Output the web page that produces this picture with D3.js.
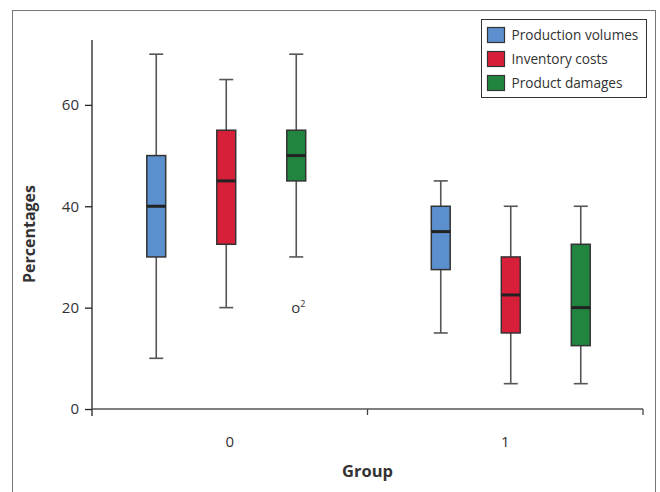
<!DOCTYPE html>
<html lang="en">
<head>
  <meta charset="UTF-8">
  <title>Box plot by group</title>
  <script src="https://d3js.org/d3.v7.min.js"></script>
  <style>
    body { margin: 0; background: #fff; }
    text { font-family: "Open Sans", "Noto Sans", sans-serif; fill: #333; }
  </style>
</head>
<body>
  <div id="chart"></div>

  <script>
    // groups and series
    const groups = ["0", "1"];
    const series = ["Production volumes", "Inventory costs", "Product damages"];
    const colors = ["#5b8fcd", "#d81f3a", "#22853f"];
    const yTicks = [0, 20, 40, 60];

    // five-number summaries, one row per group, one entry per series
    const lowWhisker = [[10, 20, 30], [15, 5, 5]];
    const q1 = [[30, 32.5, 45], [27.5, 15, 12.5]];
    const medians = [[40, 45, 50], [35, 22.5, 20]];
    const q3 = [[50, 55, 55], [40, 30, 32.5]];
    const highWhisker = [[70, 65, 70], [45, 40, 40]];

    // outliers: group, series, value, case label
    const outliers = [{ group: "0", series: 2, value: 20, label: "2" }];

    const width = 660;
    const height = 492;
    const margin = { top: 40, right: 17, bottom: 83, left: 92 };

    const svg = d3.select("#chart")
      .append("svg")
      .attr("width", width)
      .attr("height", height);

    // outer frame
    svg.append("rect")
      .attr("x", 12.5)
      .attr("y", 10.5)
      .attr("width", 643)
      .attr("height", 500)
      .attr("fill", "none")
      .attr("stroke", "#777");

    const x = d3.scaleBand()
      .domain(groups)
      .range([margin.left, width - margin.right]);

    // boxes sit on a slightly wider group scale than the axis bands
    const xBox = d3.scaleBand()
      .domain(groups)
      .range([84, 653]);

    const xSeries = d3.scaleBand()
      .domain(d3.range(series.length))
      .range([-105, 105])
      .paddingInner(0.73)
      .paddingOuter(0.365);

    const y = d3.scaleLinear()
      .domain([0, 72.8])
      .range([height - margin.bottom, margin.top]);

    // y axis
    const yAxis = svg.append("g")
      .attr("transform", "translate(" + margin.left + ",0)")
      .call(d3.axisLeft(y).tickValues(yTicks).tickSize(7).tickSizeOuter(0).tickPadding(6));
    yAxis.select(".domain").remove();
    yAxis.append("line")
      .attr("y1", y.range()[1])
      .attr("y2", y(0) + 7)
      .attr("stroke", "#222")
      .attr("stroke-width", 1.3);
    yAxis.selectAll(".tick line").attr("stroke", "#222").attr("stroke-width", 1.3);
    yAxis.selectAll(".tick text")
      .style("font-size", "15px")
      .attr("fill", "#333");

    // x axis, ticks on the band edges
    const xAxis = svg.append("g")
      .attr("transform", "translate(0," + y(0) + ")");
    xAxis.append("line")
      .attr("x1", margin.left)
      .attr("x2", width - margin.right)
      .attr("stroke", "#555")
      .attr("stroke-width", 1.5);
    const edges = [x.range()[0], x("1"), x.range()[1]];
    xAxis.selectAll(".edge")
      .data(edges.slice(1))
      .enter().append("line")
      .attr("class", "edge")
      .attr("x1", d => d)
      .attr("x2", d => d)
      .attr("y1", 0)
      .attr("y2", 6)
      .attr("stroke", "#444")
      .attr("stroke-width", 1.3);
    xAxis.selectAll(".glabel")
      .data(groups)
      .enter().append("text")
      .attr("class", "glabel")
      .attr("x", d => x(d) + x.bandwidth() / 2)
      .attr("y", 38)
      .attr("text-anchor", "middle")
      .style("font-size", "15px")
      .text(d => d);

    // axis titles
    svg.append("text")
      .attr("x", x.range()[0] + (x.range()[1] - x.range()[0]) / 2)
      .attr("y", 477)
      .attr("text-anchor", "middle")
      .style("font-size", "16.5px")
      .style("font-weight", "bold")
      .text("Group");

    svg.append("text")
      .attr("transform", "translate(35,234) rotate(-90)")
      .attr("text-anchor", "middle")
      .style("font-size", "16px")
      .style("font-weight", "bold")
      .text("Percentages");

    // box data
    const boxes = [];
    groups.forEach((g, gi) => {
      series.forEach((s, si) => {
        boxes.push({
          group: g, si: si,
          lo: lowWhisker[gi][si], q1: q1[gi][si], med: medians[gi][si],
          q3: q3[gi][si], hi: highWhisker[gi][si]
        });
      });
    });

    const cx = d => xBox(d.group) + xBox.bandwidth() / 2 + xSeries(d.si) + xSeries.bandwidth() / 2;
    const bw = xSeries.bandwidth();
    const capW = 14;

    const box = svg.selectAll(".box")
      .data(boxes)
      .enter().append("g")
      .attr("class", "box");

    box.append("line")
      .attr("x1", cx).attr("x2", cx)
      .attr("y1", d => y(d.hi)).attr("y2", d => y(d.lo))
      .attr("stroke", "#555").attr("stroke-width", 1.6);

    box.append("line")
      .attr("x1", d => cx(d) - capW / 2).attr("x2", d => cx(d) + capW / 2)
      .attr("y1", d => y(d.hi)).attr("y2", d => y(d.hi))
      .attr("stroke", "#555").attr("stroke-width", 1.6);

    box.append("line")
      .attr("x1", d => cx(d) - capW / 2).attr("x2", d => cx(d) + capW / 2)
      .attr("y1", d => y(d.lo)).attr("y2", d => y(d.lo))
      .attr("stroke", "#555").attr("stroke-width", 1.6);

    box.append("rect")
      .attr("x", d => cx(d) - bw / 2)
      .attr("y", d => y(d.q3))
      .attr("width", bw)
      .attr("height", d => y(d.q1) - y(d.q3))
      .attr("fill", d => colors[d.si])
      .attr("stroke", "#333")
      .attr("stroke-width", 1.5);

    box.append("line")
      .attr("x1", d => cx(d) - bw / 2).attr("x2", d => cx(d) + bw / 2)
      .attr("y1", d => y(d.med)).attr("y2", d => y(d.med))
      .attr("stroke", "#222").attr("stroke-width", 3);

    // outliers drawn as "o" with a case label
    const out = svg.selectAll(".outlier")
      .data(outliers)
      .enter().append("text")
      .attr("class", "outlier")
      .attr("x", d => cx({ group: d.group, si: d.series }) + 2)
      .attr("y", d => y(d.value) + 5)
      .attr("text-anchor", "middle")
      .style("font-size", "15px");
    out.append("tspan").text("o");
    out.append("tspan")
      .attr("dy", -6)
      .style("font-size", "9px")
      .text(d => d.label);

    // legend
    const legend = svg.append("g")
      .attr("transform", "translate(481.5,19.5)");
    legend.append("rect")
      .attr("width", 165)
      .attr("height", 78)
      .attr("fill", "#fff")
      .attr("stroke", "#333")
      .attr("stroke-width", 1);

    const item = legend.selectAll(".item")
      .data(series)
      .enter().append("g")
      .attr("class", "item")
      .attr("transform", (d, i) => "translate(6," + (8 + i * 24) + ")");

    item.append("rect")
      .attr("width", 17)
      .attr("height", 15)
      .attr("fill", (d, i) => colors[i])
      .attr("stroke", "#333")
      .attr("stroke-width", 1.2);

    item.append("text")
      .attr("x", 24)
      .attr("y", 12)
      .style("font-size", "13.6px")
      .text(d => d);
  </script>
</body>
</html>
